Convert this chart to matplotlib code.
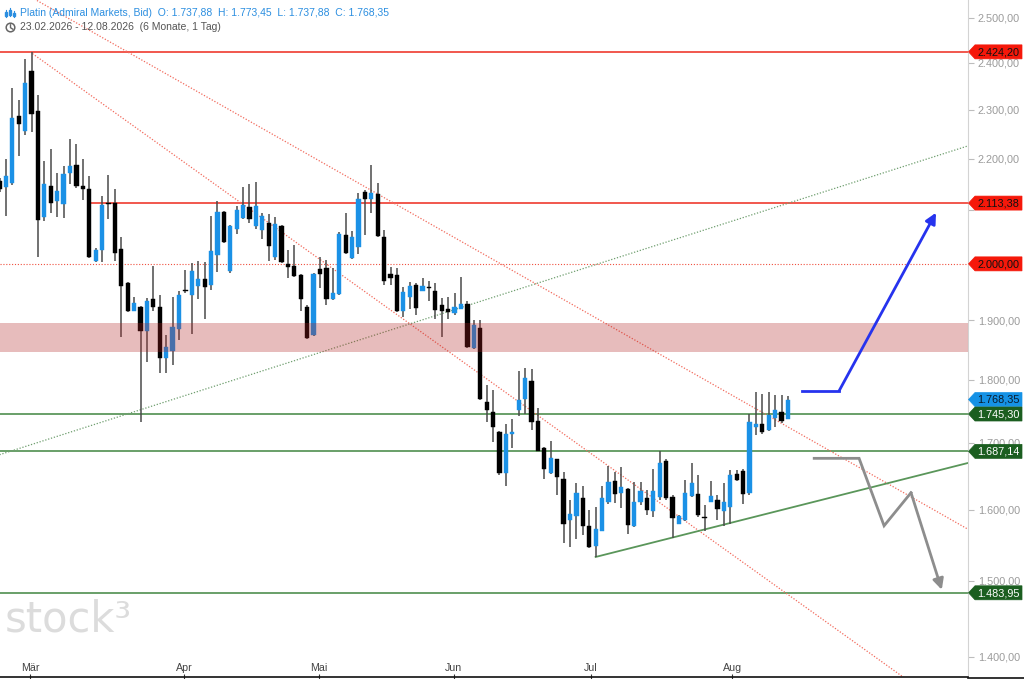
import matplotlib
matplotlib.use("Agg")
import matplotlib.pyplot as plt
from matplotlib.patches import Polygon, Circle, Rectangle
from matplotlib.ticker import FixedLocator, FuncFormatter, NullLocator
from matplotlib.transforms import blended_transform_factory

plt.rcParams['font.family'] = ['Liberation Sans', 'DejaVu Sans']

# ---------------- data ----------------
opens = [2156, 2145, 2152, 2287, 2256, 2383, 2298, 2087, 2147, 2118,
         2111, 2171, 2187, 2147, 2141, 2006, 2025, 2113, 2114, 2028,
         1966, 1917, 1923, 1881, 1937, 1923, 1837, 1848, 1885, 1953,
         1944, 1961, 1973, 1962, 2016, 2097, 1988, 2064, 2085, 2106,
         2070, 2062, 2075, 2013, 2070, 2000, 1997, 1980, 1924, 1875,
         1991, 1992, 1938, 1946, 2054, 2010, 2031, 2135, 2121, 2131,
         2049, 1982, 1980, 1917, 1940, 1962, 1952, 1959, 1952, 1927,
         1920, 1913, 1920, 1929, 1853, 1887, 1765, 1749, 1717, 1654,
         1714, 1752, 1770, 1799, 1735, 1693, 1655, 1675, 1645, 1585,
         1591, 1617, 1576, 1549, 1570, 1612, 1643, 1624, 1630, 1576,
         1611, 1617, 1598, 1618, 1672, 1619, 1580, 1585, 1620, 1623,
         1590, 1612, 1614, 1598, 1604, 1653, 1658, 1624, 1725, 1729,
         1720, 1739, 1748, 1737.88]
highs = [2162, 2200, 2345, 2321, 2408, 2424, 2331, 2195, 2219, 2171,
         2185, 2240, 2229, 2199, 2165, 2029, 2127, 2168, 2140, 2049,
         1968, 1941, 1925, 1939, 1997, 1944, 1875, 1940, 1952, 1989,
         2001, 2006, 2004, 2089, 2118, 2099, 2071, 2108, 2144, 2151,
         2155, 2094, 2093, 2087, 2071, 2025, 2034, 1981, 1926, 1983,
         2013, 2007, 1992, 2059, 2095, 2061, 2133, 2139, 2188, 2153,
         2062, 1994, 1992, 1959, 1968, 1966, 1974, 1970, 1966, 1939,
         1941, 1947, 1976, 1933, 1901, 1900, 1792, 1784, 1718, 1729,
         1738, 1815, 1819, 1818, 1755, 1694, 1703, 1676, 1656, 1614,
         1639, 1635, 1600, 1604, 1635, 1665, 1656, 1664, 1632, 1641,
         1641, 1629, 1661, 1688, 1675, 1622, 1592, 1644, 1669, 1651,
         1607, 1642, 1622, 1639, 1659, 1659, 1661, 1746, 1781, 1778,
         1780, 1776, 1776, 1773.45]
lows = [2134, 2089, 2149, 2206, 2248, 2255, 2013, 2080, 2095, 2087,
        2085, 2151, 2142, 2120, 2010, 2004, 2003, 2083, 2006, 1872,
        1914, 1916, 1733, 1830, 1916, 1812, 1811, 1825, 1867, 1948,
        1877, 1938, 1903, 1953, 1986, 2038, 1983, 2055, 2084, 2075,
        2065, 2046, 2006, 2007, 2002, 1974, 1977, 1917, 1869, 1874,
        1956, 1926, 1935, 1945, 2018, 2009, 2018, 2053, 2094, 2050,
        1962, 1962, 1914, 1906, 1919, 1909, 1951, 1933, 1903, 1871,
        1902, 1909, 1919, 1853, 1851, 1768, 1733, 1702, 1651, 1635,
        1693, 1742, 1746, 1720, 1687, 1646, 1653, 1621, 1552, 1547,
        1558, 1564, 1545, 1533, 1569, 1609, 1610, 1602, 1565, 1575,
        1607, 1592, 1590, 1615, 1615, 1560, 1579, 1584, 1619, 1590,
        1569, 1611, 1585, 1576, 1580, 1643, 1609, 1622, 1713, 1714,
        1719, 1725, 1731, 1737.88]
closes = [2140, 2166, 2283, 2271, 2357, 2291, 2081, 2151, 2113, 2137,
          2170, 2186, 2146, 2140, 2012, 2025, 2110, 2111, 2020, 1961,
          1916, 1930, 1881, 1934, 1923, 1837, 1854, 1889, 1944, 1951,
          1988, 1973, 1958, 2024, 2097, 2040, 2070, 2100, 2110, 2083,
          2108, 2089, 2033, 2073, 2004, 1994, 1979, 1937, 1870, 1982,
          1982, 1937, 1947, 2055, 2019, 2049, 2122, 2122, 2133, 2052,
          1970, 1974, 1917, 1949, 1961, 1921, 1961, 1957, 1918, 1917,
          1914, 1924, 1929, 1854, 1892, 1769, 1752, 1725, 1655, 1714,
          1716, 1767, 1803, 1732, 1688, 1660, 1677, 1648, 1579, 1594,
          1624, 1577, 1547, 1573, 1617, 1641, 1623, 1633, 1578, 1612,
          1627, 1599, 1627, 1670, 1617, 1588, 1591, 1625, 1639, 1592,
          1588, 1620, 1601, 1611, 1651, 1644, 1623, 1733, 1729, 1717,
          1744, 1752, 1735, 1768.35]

month_labels = ["Mär", "Apr", "Mai", "Jun", "Jul", "Aug"]
month_pos = [4.76, 28.83, 49.89, 70.9, 92.28, 114.32]

y_ticks = [1400, 1500, 1600, 1700, 1800, 1900, 2000, 2100, 2200, 2300, 2400, 2500]
hidden_tick_labels = [2000, 2100]   # covered by price tags in the reference

# horizontal levels
red_levels = [2424.20, 2113.38]
red_dotted_level = 2000.00
green_levels = [1745.30, 1687.14, 1483.95]
zone = (1847, 1895)

# trend lines (index, price)
red_line_lower = ([4.76, 151.1], [2424.2, 1318])
red_line_upper = ([4.76, 151.1], [2549, 1572])
green_dotted = ([0.0, 151.1], [1682, 2226])
green_support = ([93.0, 151.1], [1533, 1669.5])

# scenario arrows
blue_path_x = [125.15, 131.0, 146.1]
blue_path_y = [1782.7, 1782.7, 2095]
gray_path_x = [127.1, 134.1, 138.0, 142.2, 147.0]
gray_path_y = [1676.5, 1676.5, 1577, 1625, 1488]

title = "Platin (Admiral Markets, Bid)"
period = "23.02.2026 - 12.08.2026  (6 Monate, 1 Tag)"


def de(v):
    s = f"{v:,.2f}"
    return s.replace(",", "X").replace(".", ",").replace("X", ".")


# ---------------- figure ----------------
W, H = 1024, 679
fig = plt.figure(figsize=(W / 100, H / 100), dpi=100)
fig.patch.set_facecolor("white")
ax = fig.add_axes([0, 2 / H, 968 / W, 677 / H])
ax.set_facecolor("white")
ax.set_yscale("log")
ax.set_xlim(0.078, 0.078 + 968 / 6.41)
ax.set_ylim(1374.8, 2541.0)

BLUE = "#1b91e6"
WICK = "#4a4a4a"
n = len(opens)
for i in range(n):
    o, h, l, c = opens[i], highs[i], lows[i], closes[i]
    col = BLUE if c >= o else "#000000"
    ax.plot([i, i], [l, h], color=WICK, lw=1.1, zorder=3, solid_capstyle="butt")
    lo, hi = min(o, c), max(o, c)
    if hi - lo < 2.5:
        mid = (hi + lo) / 2
        lo, hi = mid - 1.3, mid + 1.3
    ax.add_patch(Rectangle((i - 0.33, lo), 0.66, hi - lo, facecolor=col,
                           edgecolor=col, lw=0.3, zorder=4))

RED = "#ee2a1c"
ax.axhline(red_levels[0], color=RED, lw=1.1, zorder=2)
ax.plot([13.8, 200], [red_levels[1]] * 2, color=RED, lw=1.1, zorder=2)
ax.axhline(red_dotted_level, color="#f0503f", lw=0.8, ls=(0, (1, 1.6)), zorder=2)
GREEN = "#4f8f4f"
for g in green_levels:
    ax.axhline(g, color=GREEN, lw=1.2, zorder=2)

ax.axhspan(zone[0], zone[1], color="#b22222", alpha=0.3, lw=0, zorder=5)

ax.plot(*red_line_lower, color="#f26a5c", lw=0.9, ls=(0, (1, 1.4)), zorder=2)
ax.plot(*red_line_upper, color="#f26a5c", lw=0.9, ls=(0, (1, 1.4)), zorder=2)
ax.plot(*green_dotted, color="#6e9e6e", lw=0.9, ls=(0, (1, 1.4)), zorder=2)
ax.plot(*green_support, color="#5a965a", lw=1.3, zorder=2)

ABLUE = "#2633ee"
AGRAY = "#8d8d8d"
ax.plot(blue_path_x[:-1], blue_path_y[:-1], color=ABLUE, lw=2, zorder=6,
        solid_joinstyle="miter")
ax.annotate("", xy=(blue_path_x[-1], blue_path_y[-1]),
            xytext=(blue_path_x[-2], blue_path_y[-2]),
            arrowprops=dict(arrowstyle="-|>", color=ABLUE, lw=2,
                            mutation_scale=16, shrinkA=0, shrinkB=0), zorder=6)
ax.plot(gray_path_x[:-1], gray_path_y[:-1], color=AGRAY, lw=2, zorder=6,
        solid_joinstyle="miter")
ax.annotate("", xy=(gray_path_x[-1], gray_path_y[-1]),
            xytext=(gray_path_x[-2], gray_path_y[-2]),
            arrowprops=dict(arrowstyle="-|>", color=AGRAY, lw=2,
                            mutation_scale=16, shrinkA=0, shrinkB=0), zorder=6)

# axes styling
for s in ["top", "left"]:
    ax.spines[s].set_visible(False)
ax.spines["right"].set_color("#d3d3d3")
ax.spines["bottom"].set_color("#111111")
ax.spines["bottom"].set_linewidth(1.2)
ax.yaxis.tick_right()
ax.yaxis.set_major_locator(FixedLocator(y_ticks))
ax.yaxis.set_minor_locator(NullLocator())
ax.yaxis.set_major_formatter(FuncFormatter(
    lambda v, p: "" if round(v) in hidden_tick_labels else de(v)))
ax.tick_params(axis="y", which="major", direction="out", length=4, width=0.8,
               color="#bdbdbd", labelcolor="#9b9b9b", labelsize=7.8, pad=3)
ax.set_xticks(month_pos)
ax.set_xticklabels([])
ax.tick_params(axis="x", direction="inout", length=4, width=0.8, color="#333333")
tr = blended_transform_factory(ax.transData, ax.transAxes)
for p, lab in zip(month_pos, month_labels):
    ax.text(p, 9 / 677, lab, transform=tr, ha="center", va="center",
            fontsize=7.7, color="#444444")

# ---------------- overlay (pixel coordinates) ----------------
ov = fig.add_axes([0, 0, 1, 1], zorder=10)
ov.set_xlim(0, W)
ov.set_ylim(H, 0)
ov.axis("off")
ov.patch.set_alpha(0)


def py(price):
    return H - ax.transData.transform((1, price))[1]


ov.plot([968, W], [677.5, 677.5], color="#111111", lw=1.2)

tags = [(red_levels[0], "#f5180a", "#111111"),
        (red_levels[1], "#f5180a", "#111111"),
        (red_dotted_level, "#f5180a", "#111111"),
        (closes[-1], "#1592e6", "#0b1a2a"),
        (green_levels[0], "#1b5e20", "white"),
        (green_levels[1], "#1b5e20", "white"),
        (green_levels[2], "#1b5e20", "white")]
for price, face, tc in tags:
    y = py(price)
    poly = Polygon([(968.5, y), (975, y - 7), (1022, y - 7), (1022, y + 7),
                    (975, y + 7)], closed=True, facecolor=face, edgecolor=face,
                   lw=0.5, zorder=11)
    ov.add_patch(poly)
    ov.text(998.5, y + 0.3, de(price), ha="center", va="center", fontsize=7.8,
            color=tc, zorder=12)

# header
ov.text(20, 13, f"{title}  O: {de(opens[-1])}  H: {de(highs[-1])}  "
        f"L: {de(lows[-1])}  C: {de(closes[-1])}",
        ha="left", va="center", fontsize=7.5, color="#2b8ee0")
ov.text(20, 27.5, period, ha="left", va="center", fontsize=7.5, color="#555555")
for bx, b0, b1 in [(5.5, 10, 17), (9.5, 8, 16), (13.5, 11, 17)]:
    ov.add_patch(Rectangle((bx - 1, b0 + 2), 2, b1 - b0 - 3, color="#2b8ee0"))
    ov.plot([bx, bx], [b0, b1], color="#2b8ee0", lw=0.8)
ov.add_patch(Circle((10.5, 27.5), 4.3, fill=False, ec="#666666", lw=1.1))
ov.plot([10.5, 10.5, 12.8], [24.8, 27.7, 29.2], color="#666666", lw=1.0)

# watermark
ov.text(5, 631, "stock³", ha="left", va="baseline", fontsize=30,
        color="#dcdcdc", family=["DejaVu Sans"])

fig.savefig("out.png", dpi=100, facecolor="white")
